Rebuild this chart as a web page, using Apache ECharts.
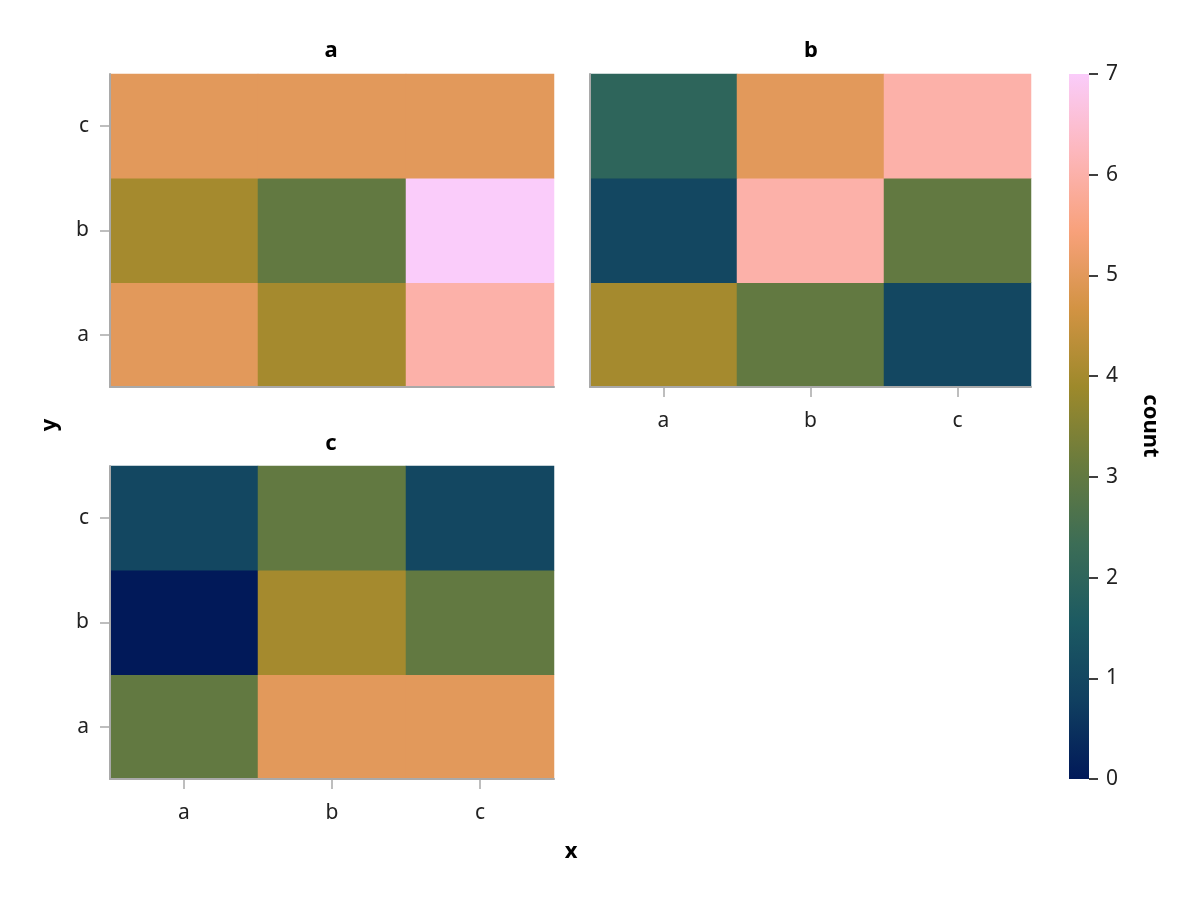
<!DOCTYPE html>
<html>
<head>
<meta charset="utf-8">
<script src="https://cdn.jsdelivr.net/npm/echarts@6/dist/echarts.min.js"></script>
<style>
html,body{margin:0;padding:0;background:#fff;}
#chart{width:1200px;height:900px;}
</style>
</head>
<body>
<div id="chart"></div>
<script>
const xCats = ['a', 'b', 'c'];
const yCats = ['a', 'b', 'c'];
const panelTitles = ['a', 'b', 'c'];
// rows: y = a, b, c ; columns: x = a, b, c
const panelA = [[5, 4, 6], [4, 3, 7], [5, 5, 5]];
const panelB = [[4, 3, 1], [1, 6, 3], [2, 5, 6]];
const panelC = [[3, 5, 5], [0, 4, 3], [1, 3, 1]];
const colorTicks = [0, 1, 2, 3, 4, 5, 6, 7];
const batlow = ['#011959', '#103F60', '#1C5A62', '#3C6D56', '#687B3E', '#9D892B', '#D29343', '#F8A17B', '#FDB7BC', '#FACCFA'];

const FONT = 'Noto Sans';
const gray = '#a9a9a9';

function toData(m) {
  const out = [];
  for (let yi = 0; yi < yCats.length; yi++)
    for (let xi = 0; xi < xCats.length; xi++)
      out.push([xi, yi, m[yi][xi]]);
  return out;
}

const grids = [
  {left: 110, top: 74, width: 444, height: 313},
  {left: 590, top: 74, width: 441, height: 313},
  {left: 110, top: 466, width: 444, height: 313},
  {left: 1069, top: 74, width: 20, height: 705}
];

function xAxis(gi, showLabels) {
  return {
    type: 'category', gridIndex: gi, data: xCats, z: 5,
    axisLine: {show: true, lineStyle: {color: gray, width: 2}},
    axisTick: {show: showLabels, length: 10, alignWithLabel: true, lineStyle: {color: gray, width: 1.5}},
    axisLabel: {show: showLabels, fontFamily: FONT, fontSize: 21, color: '#222', margin: 24},
    splitLine: {show: false}
  };
}
function yAxis(gi, showLabels) {
  return {
    type: 'category', gridIndex: gi, data: yCats, z: 5,
    axisLine: {show: true, lineStyle: {color: gray, width: 2}},
    axisTick: {show: showLabels, length: 10, alignWithLabel: true, lineStyle: {color: gray, width: 1.5}},
    axisLabel: {show: showLabels, fontFamily: FONT, fontSize: 21, color: '#222', margin: 21},
    splitLine: {show: false}
  };
}

const panels = [panelA, panelB, panelC];
const series = panels.map((m, i) => ({
  type: 'heatmap', xAxisIndex: i, yAxisIndex: i, data: toData(m),
  itemStyle: {borderWidth: 0}, emphasis: {disabled: true}, silent: true
}));

const titleText = [
  {x: 331, y: 51, t: panelTitles[0]},
  {x: 811, y: 51, t: panelTitles[1]},
  {x: 331, y: 444, t: panelTitles[2]}
];

const cb = grids[3];

const chart = echarts.init(document.getElementById('chart'), null, {renderer: 'canvas'});
chart.setOption({
  backgroundColor: '#fff',
  animation: false,
  grid: grids,
  xAxis: [xAxis(0, false), xAxis(1, true), xAxis(2, true),
    {type: 'value', gridIndex: 3, show: false, min: 0, max: 1}],
  yAxis: [yAxis(0, true), yAxis(1, false), yAxis(2, true),
    {type: 'value', gridIndex: 3, position: 'right', min: 0, max: 7, interval: 1, z: 5,
     axisLine: {show: false, onZero: false},
     axisTick: {show: true, length: 9, lineStyle: {color: '#000', width: 1.5}},
     axisLabel: {show: true, fontFamily: FONT, fontSize: 21, color: '#222', margin: 17,
       formatter: v => colorTicks.includes(v) ? String(v) : ''},
     splitLine: {show: false}}],
  visualMap: {
    type: 'continuous', min: 0, max: 7, seriesIndex: [0, 1, 2],
    calculable: false, show: false,
    inRange: {color: batlow}
  },
  series: series,
  graphic: [
    {type: 'rect', shape: {x: cb.left, y: cb.top, width: cb.width, height: cb.height}, z: 1,
     style: {fill: new echarts.graphic.LinearGradient(0, 1, 0, 0, batlow.map((c, i) => ({offset: i / (batlow.length - 1), color: c})))}}
  ].concat(titleText.map(o => ({
    type: 'text', x: o.x, y: o.y,
    style: {text: o.t, fontFamily: FONT, fontWeight: 'bold', fontSize: 22, fill: '#000', align: 'center', verticalAlign: 'middle'}
  }))).concat([
    {type: 'text', x: 571, y: 852, style: {text: 'x', fontFamily: FONT, fontWeight: 'bold', fontSize: 22, fill: '#000', align: 'center', verticalAlign: 'middle'}},
    {type: 'text', x: 50, y: 425, rotation: Math.PI / 2, style: {text: 'y', fontFamily: FONT, fontWeight: 'bold', fontSize: 22, fill: '#000', align: 'center', verticalAlign: 'middle'}},
    {type: 'text', x: 1150, y: 426, rotation: -Math.PI / 2, style: {text: 'count', fontFamily: FONT, fontWeight: 'bold', fontSize: 22, fill: '#000', align: 'center', verticalAlign: 'middle'}}
  ])
});
</script>
</body>
</html>
